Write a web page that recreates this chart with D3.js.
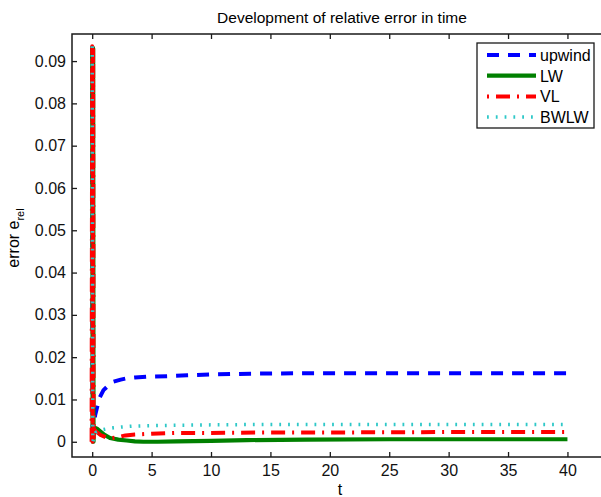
<!DOCTYPE html>
<html lang="en">
<head>
  <meta charset="UTF-8">
  <script type="text/javascript" src="https://cdn.jsdelivr.net/npm/d3@7/dist/d3.min.js"></script>
  <title>Development of relative error in time</title>
  <style>
    body { margin: 0; background: #ffffff; }
    svg { font-family: "Liberation Sans", Arial, sans-serif; }
    .axis path, .axis line { stroke: #1a1a1a; stroke-width: 1.3; }
    .axis text { font-size: 16px; fill: #111; }
  </style>
</head>
<body>
<div id="chart"></div>

<script>
  // series: time and relative error
  // (the first few steps oscillate between 0 and ~0.0935, that is the spike at t=0)
  var tUpwind = [0, 0.03, 0.1, 0.25, 0.6, 0.95, 1.4, 1.8, 2.4, 2.9, 3.6, 4.6, 6.3, 8, 9.9, 13.3, 18, 25, 32, 40];
  var eUpwind = [0.0935, 0.0, 0.0025, 0.0063, 0.0103, 0.0122, 0.0134, 0.0142, 0.0147, 0.015, 0.0152, 0.0154, 0.0155, 0.0157, 0.0159, 0.0161, 0.0162, 0.0162, 0.0162, 0.0162];

  var tLW = [0, 0.04, 0.08, 0.11, 0.15, 0.4, 0.7, 1.0, 1.5, 2.2, 2.9, 3.6, 4.3, 5.5, 7.1, 10, 13, 18, 25, 32, 40];
  var eLW = [0.0935, 0.0, 0.093, 0.0, 0.0034, 0.0031, 0.0024, 0.0017, 0.0009, 0.0005, 0.0003, 0.0001, 0.0, 0.0, 0.0001, 0.0002, 0.0004, 0.0005, 0.0006, 0.0006, 0.0006];

  var tVL = [-0.05, 0.0, 0.04, 0.08, 0.12, 0.16, 0.3, 0.7, 1.2, 1.7, 2.2, 2.8, 3.6, 5, 7, 10, 15, 20, 30, 40];
  var eVL = [0.0, 0.0935, 0.0, 0.093, 0.0, 0.0029, 0.0025, 0.0016, 0.001, 0.0009, 0.0011, 0.0015, 0.0017, 0.0019, 0.0021, 0.0021, 0.0022, 0.0022, 0.0023, 0.0023];

  var tBWLW = [0, 0.05, 0.3, 0.8, 1.3, 1.8, 2.5, 3.4, 5, 7, 10, 15, 20, 30, 40];
  var eBWLW = [0.0935, 0.0, 0.0022, 0.0028, 0.0031, 0.0033, 0.0035, 0.0037, 0.0038, 0.0039, 0.004, 0.0041, 0.0041, 0.0041, 0.0041];

  var seriesNames = ["upwind", "LW", "VL", "BWLW"];
  var xTicks = [0, 5, 10, 15, 20, 25, 30, 35, 40];
  var yTicks = [0, 0.01, 0.02, 0.03, 0.04, 0.05, 0.06, 0.07, 0.08, 0.09];

  var styles = {
    upwind: {color: "#0000ff", width: 4, dash: "12,9"},
    LW:     {color: "#008000", width: 4.2, dash: null},
    VL:     {color: "#ff0000", width: 4, dash: "14,7,2,7"},
    BWLW:   {color: "#2ec8c8", width: 3.5, dash: "1.8,7"}
  };

  function pairs(t, e) {
    return t.map(function(d, i) { return {t: d, e: e[i]}; });
  }

  var series = [
    {name: "upwind", values: pairs(tUpwind, eUpwind)},
    {name: "LW", values: pairs(tLW, eLW)},
    {name: "VL", values: pairs(tVL, eVL)},
    {name: "BWLW", values: pairs(tBWLW, eBWLW)}
  ];

  var W = 601, H = 497;
  var plot = {left: 72, top: 34, right: 612, bottom: 457};

  var xScale = d3.scaleLinear()
    .domain([-1.7, 43.75])
    .range([plot.left, plot.right]);

  var yScale = d3.scaleLinear()
    .domain([-0.0036, 0.0964])
    .range([plot.bottom, plot.top]);

  var svg = d3.select("#chart")
    .append("svg")
    .attr("width", W)
    .attr("height", H);

  svg.append("rect")
    .attr("width", W).attr("height", H)
    .attr("fill", "#ffffff");

  svg.append("clipPath").attr("id", "clip")
    .append("rect")
    .attr("x", plot.left).attr("y", plot.top)
    .attr("width", plot.right - plot.left)
    .attr("height", plot.bottom - plot.top);

  // lines
  var line = d3.line()
    .x(function(d) { return xScale(d.t); })
    .y(function(d) { return yScale(d.e); });

  svg.append("g")
    .attr("clip-path", "url(#clip)")
    .selectAll("path")
    .data(series)
    .enter()
    .append("path")
    .attr("d", function(d) { return line(d.values); })
    .attr("fill", "none")
    .attr("stroke", function(d) { return styles[d.name].color; })
    .attr("stroke-width", function(d) { return styles[d.name].width; })
    .attr("stroke-dasharray", function(d) { return styles[d.name].dash; })
    .attr("stroke-linejoin", "round");

  // axes (ticks pointing inward, like matlab)
  svg.append("g")
    .attr("class", "axis")
    .attr("transform", "translate(0," + plot.bottom + ")")
    .call(d3.axisBottom(xScale).tickValues(xTicks).tickSize(-5).tickSizeOuter(0).tickPadding(8))
    .call(function(g) { g.select(".domain").remove(); });

  svg.append("g")
    .attr("class", "axis")
    .attr("transform", "translate(0," + plot.top + ")")
    .call(d3.axisTop(xScale).tickValues(xTicks).tickSize(-5).tickSizeOuter(0).tickFormat(""))
    .call(function(g) { g.select(".domain").remove(); });

  svg.append("g")
    .attr("class", "axis")
    .attr("transform", "translate(" + plot.left + ",0)")
    .call(d3.axisLeft(yScale).tickValues(yTicks).tickSize(-5).tickSizeOuter(0).tickPadding(6)
      .tickFormat(function(d) { return d === 0 ? "0" : d3.format(".2f")(d); }))
    .call(function(g) { g.select(".domain").remove(); });

  // box
  svg.append("rect")
    .attr("x", plot.left).attr("y", plot.top)
    .attr("width", plot.right - plot.left)
    .attr("height", plot.bottom - plot.top)
    .attr("fill", "none")
    .attr("stroke", "#1a1a1a")
    .attr("stroke-width", 1.5);

  // title and labels
  svg.append("text")
    .attr("x", (plot.left + plot.right) / 2)
    .attr("y", 23)
    .style("text-anchor", "middle")
    .style("font-size", "15.5px")
    .text("Development of relative error in time");

  svg.append("text")
    .attr("x", 340)
    .attr("y", 495)
    .style("text-anchor", "middle")
    .style("font-size", "16px")
    .text("t");

  var ylab = svg.append("text")
    .attr("transform", "translate(19,238)rotate(-90)")
    .style("text-anchor", "middle")
    .style("font-size", "16px");
  ylab.append("tspan").text("error e");
  ylab.append("tspan").attr("dy", 5).style("font-size", "11px").text("rel");

  // legend
  var legend = svg.append("g");
  legend.append("rect")
    .attr("x", 477).attr("y", 43)
    .attr("width", 117).attr("height", 85)
    .attr("fill", "#ffffff")
    .attr("stroke", "#1a1a1a")
    .attr("stroke-width", 1.3);

  var rows = legend.selectAll(".row")
    .data(seriesNames)
    .enter()
    .append("g")
    .attr("transform", function(d, i) { return "translate(0," + (55 + i * 20.7) + ")"; });

  rows.append("line")
    .attr("x1", 487).attr("x2", 536)
    .attr("y1", 0).attr("y2", 0)
    .attr("stroke", function(d) { return styles[d].color; })
    .attr("stroke-width", function(d) { return styles[d].width; })
    .attr("stroke-dasharray", function(d) { return styles[d].dash; })
    .attr("stroke-dashoffset", function(d) { return d === "VL" ? 21 : 0; });

  rows.append("text")
    .attr("x", 540)
    .attr("y", 6)
    .style("font-size", "16px")
    .text(function(d) { return d; });
</script>
</body>
</html>
